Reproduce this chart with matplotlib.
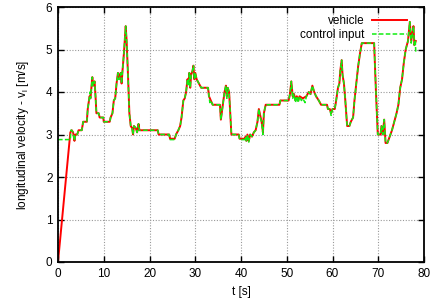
import matplotlib
matplotlib.use("Agg")
import matplotlib.pyplot as plt

plt.rcParams['font.family'] = ['Liberation Sans', 'DejaVu Sans']

# vehicle velocity (t [s], v [m/s])
veh_t = [0, 2.7, 3.0, 3.3, 3.6, 3.8, 4.2, 4.5, 5.2, 5.5, 6.3, 6.5, 6.9, 7.1, 7.3, 7.5, 7.7, 8.0, 8.2, 8.4,
         8.9, 9.1, 9.9, 10.0, 11.3, 11.5, 11.9, 12.2, 12.5, 12.8, 13.1, 13.4, 13.7, 13.9, 14.1, 14.4, 14.8,
         15.0, 15.3, 15.6, 15.9, 16.2, 16.4, 16.6, 17.0, 17.3, 17.6, 17.8, 21.8, 22.0, 24.3, 24.5, 25.5,
         25.8, 26.3, 26.7, 27.0, 27.4, 27.7, 28.0, 28.3, 28.5, 28.7, 28.9, 29.1, 29.4, 29.6, 29.8, 30.0,
         30.3, 30.8, 31.3, 32.8, 33.0, 33.4, 33.8, 35.4, 35.6, 35.9, 36.1, 36.4, 36.7, 36.9, 37.1, 37.4,
         37.6, 37.9, 39.5, 39.7, 40.8, 41.0, 41.2, 41.4, 41.7, 42.0, 42.4, 42.8, 43.2, 43.6, 43.9, 44.2,
         44.5, 44.8, 45.0, 45.4, 48.4, 48.6, 50.4, 50.7, 51.0, 51.3, 51.6, 51.9, 52.2, 52.5, 52.8, 53.5,
         54.3, 54.8, 55.2, 55.6, 56.0, 56.4, 57.0, 57.5, 58.8, 59.0, 59.4, 59.7, 60.0, 60.5, 60.8, 61.2,
         61.5, 61.7, 62.0, 62.2, 62.5, 62.8, 63.2, 63.7, 64.0, 64.5, 64.8, 65.2, 65.6, 66.0, 66.4, 69.1,
         69.5, 69.9, 70.5, 70.7, 71.0, 71.3, 71.6, 72.0, 72.5, 73.0, 73.5, 74.0, 74.4, 74.8, 75.2, 75.6,
         76.0, 76.5, 76.9, 77.2, 77.5, 77.7, 77.9, 78.2]
veh_v = [0, 3.05, 3.1, 3.05, 2.85, 3.0, 3.0, 3.1, 3.1, 3.3, 3.3, 3.6, 3.9, 3.85, 4.1, 4.35, 4.15, 4.25, 3.9, 3.5,
         3.5, 3.4, 3.4, 3.3, 3.3, 3.4, 3.5, 3.8, 3.85, 4.2, 4.45, 4.3, 4.45, 4.2, 4.5, 4.9, 5.55,
         5.2, 4.4, 3.5, 3.2, 3.15, 3.0, 3.2, 3.15, 3.05, 3.25, 3.1, 3.1, 3.0, 3.0, 2.9, 2.9,
         3.0, 3.1, 3.2, 3.4, 3.8, 3.85, 4.0, 4.3, 4.2, 4.45, 4.1, 4.4, 4.5, 4.62, 4.3, 4.45,
         4.3, 4.2, 4.1, 4.1, 3.9, 3.8, 3.7, 3.7, 3.35, 3.6, 3.75, 4.0, 4.15, 3.9, 4.1, 4.0,
         3.6, 3.0, 3.0, 2.9, 2.9, 2.95, 2.85, 3.0, 2.85, 3.0, 2.95, 3.05, 3.1, 3.3, 3.6, 3.45,
         3.3, 3.05, 3.5, 3.7, 3.7, 3.8, 3.8, 3.95, 4.25, 3.9, 3.95, 3.8, 3.9, 3.8, 3.9, 3.85,
         3.9, 4.0, 3.95, 4.15, 4.0, 3.9, 3.8, 3.7, 3.7, 3.6, 3.6, 3.5, 3.6, 3.6, 3.8, 4.1,
         4.2, 4.5, 4.75, 4.4, 4.2, 3.8, 3.2, 3.2, 3.3, 3.4, 3.8, 4.2, 4.6, 4.9, 5.15, 5.15,
         4.0, 3.0, 3.0, 3.2, 3.0, 3.35, 2.8, 2.8, 2.95, 3.1, 3.3, 3.5, 3.7, 4.1, 4.3, 4.7,
         5.0, 5.2, 5.65, 5.2, 5.4, 5.55, 5.1, 5.2]

# control input (t [s], v [m/s])
ctl_t = [0, 2.7, 2.8, 3.0, 3.3, 3.6, 3.8, 4.2, 4.5, 5.2, 5.5, 6.3, 6.5, 6.9, 7.0, 7.1, 7.3, 7.5, 7.6, 7.7,
         8.0, 8.2, 8.4, 8.9, 9.1, 9.9, 10.0, 11.3, 11.5, 11.9, 12.2, 12.5, 12.8, 13.1, 13.2, 13.4, 13.7,
         13.9, 14.1, 14.4, 14.8, 15.0, 15.3, 15.6, 15.9, 16.2, 16.4, 16.6, 17.0, 17.3, 17.6, 17.8, 21.8,
         22.0, 24.3, 24.5, 25.5, 25.8, 26.3, 26.7, 27.0, 27.4, 27.7, 28.0, 28.3, 28.5, 28.7, 28.9, 29.1,
         29.4, 29.6, 29.8, 30.0, 30.3, 30.8, 31.3, 32.8, 33.0, 33.2, 33.4, 33.8, 35.4, 35.6, 35.9, 36.1,
         36.4, 36.7, 36.9, 37.1, 37.4, 37.6, 37.9, 39.5, 39.7, 40.8, 41.0, 41.2, 41.4, 41.7, 42.0, 42.4,
         42.8, 43.2, 43.6, 43.9, 44.2, 44.5, 44.8, 45.0, 45.4, 48.4, 48.6, 50.4, 50.7, 51.0, 51.3, 51.6,
         51.9, 52.2, 52.5, 52.8, 53.2, 53.5, 54.0, 54.3, 54.8, 55.2, 55.6, 56.0, 56.4, 57.0, 57.5, 58.8,
         59.0, 59.4, 59.7, 60.0, 60.5, 60.8, 61.2, 61.5, 61.7, 62.0, 62.2, 62.5, 62.8, 63.2, 63.7, 64.0,
         64.5, 64.8, 65.2, 65.6, 66.0, 66.4, 69.1, 69.5, 69.9, 70.5, 70.7, 71.0, 71.3, 71.6, 72.0, 72.5,
         73.0, 73.5, 74.0, 74.4, 74.8, 75.2, 75.6, 76.0, 76.5, 76.9, 77.2, 77.5, 77.7, 77.9, 78.1, 78.2]
ctl_v = [2.88, 2.88, 3.1, 3.1, 3.05, 2.85, 3.0, 3.0, 3.1, 3.1, 3.3, 3.3, 3.6, 3.9, 4.0, 3.85, 4.1, 4.35, 4.2, 4.15,
         4.25, 3.9, 3.5, 3.5, 3.4, 3.4, 3.3, 3.3, 3.4, 3.5, 3.8, 3.85, 4.2, 4.45, 4.3, 4.3, 4.45,
         4.2, 4.5, 4.9, 5.55, 5.2, 4.4, 3.5, 3.2, 3.15, 3.0, 3.2, 3.15, 3.05, 3.25, 3.1, 3.1,
         3.0, 3.0, 2.88, 2.88, 3.0, 3.1, 3.2, 3.4, 3.8, 3.85, 4.0, 4.3, 4.15, 4.45, 4.1, 4.4,
         4.5, 4.62, 4.3, 4.45, 4.3, 4.2, 4.1, 4.1, 3.9, 3.75, 3.8, 3.7, 3.7, 3.35, 3.6, 3.75,
         4.0, 4.15, 3.85, 4.1, 4.0, 3.6, 3.0, 3.0, 2.88, 2.88, 2.95, 2.82, 3.0, 2.82, 3.0, 2.95,
         3.05, 3.1, 3.3, 3.6, 3.4, 3.3, 3.0, 3.5, 3.7, 3.7, 3.8, 3.8, 3.95, 4.25, 3.85, 3.95,
         3.75, 3.9, 3.75, 3.9, 3.8, 3.85, 3.75, 3.9, 4.0, 3.95, 4.15, 4.0, 3.9, 3.8, 3.7, 3.7,
         3.6, 3.6, 3.45, 3.6, 3.6, 3.8, 4.1, 4.2, 4.5, 4.75, 4.4, 4.2, 3.8, 3.2, 3.2, 3.3,
         3.4, 3.8, 4.2, 4.6, 4.9, 5.15, 5.15, 4.0, 3.0, 3.0, 3.2, 3.0, 3.35, 2.8, 2.8, 2.95,
         3.1, 3.3, 3.5, 3.7, 4.1, 4.3, 4.7, 5.0, 5.2, 5.65, 5.15, 5.4, 5.55, 5.1, 5.2, 4.95]

x_ticks = [0, 10, 20, 30, 40, 50, 60, 70, 80]
y_ticks = [0, 1, 2, 3, 4, 5, 6]

fig = plt.figure(figsize=(4.43, 3.05), dpi=100)
ax = fig.add_axes([58/443, 1-262/305, (424-58)/443, (262-7)/305])

ax.plot(veh_t, veh_v, color='#ff0000', lw=1.4, label='vehicle', zorder=3)
ax.plot(ctl_t, ctl_v, color='#11ee11', lw=1.1, dashes=(3, 1.5), label='control input', zorder=4)

ax.set_xlim(0, 80)
ax.set_ylim(0, 6)
ax.set_xticks(x_ticks)
ax.set_yticks(y_ticks)
ax.tick_params(direction='in', length=4, width=1, top=True, right=True, labelsize=8.5, pad=4)
ax.grid(True, color='#999999', lw=0.8, linestyle=(0, (1, 1.5)))
for s in ax.spines.values():
    s.set_linewidth(1.3)
    s.set_zorder(5)

ax.set_xlabel('t [s]', fontsize=8.5, labelpad=5)
ax.set_ylabel('longitudinal velocity - v$_\\mathregular{l}$ [m/s]', fontsize=8.5, labelpad=11)

leg = ax.legend(loc='upper right', frameon=False, markerfirst=False, fontsize=8.5,
                handlelength=2.9, handletextpad=0.7, labelspacing=0.15,
                borderaxespad=0.3, bbox_to_anchor=(0.975, 1.0))

fig.savefig('out.png', dpi=100)
